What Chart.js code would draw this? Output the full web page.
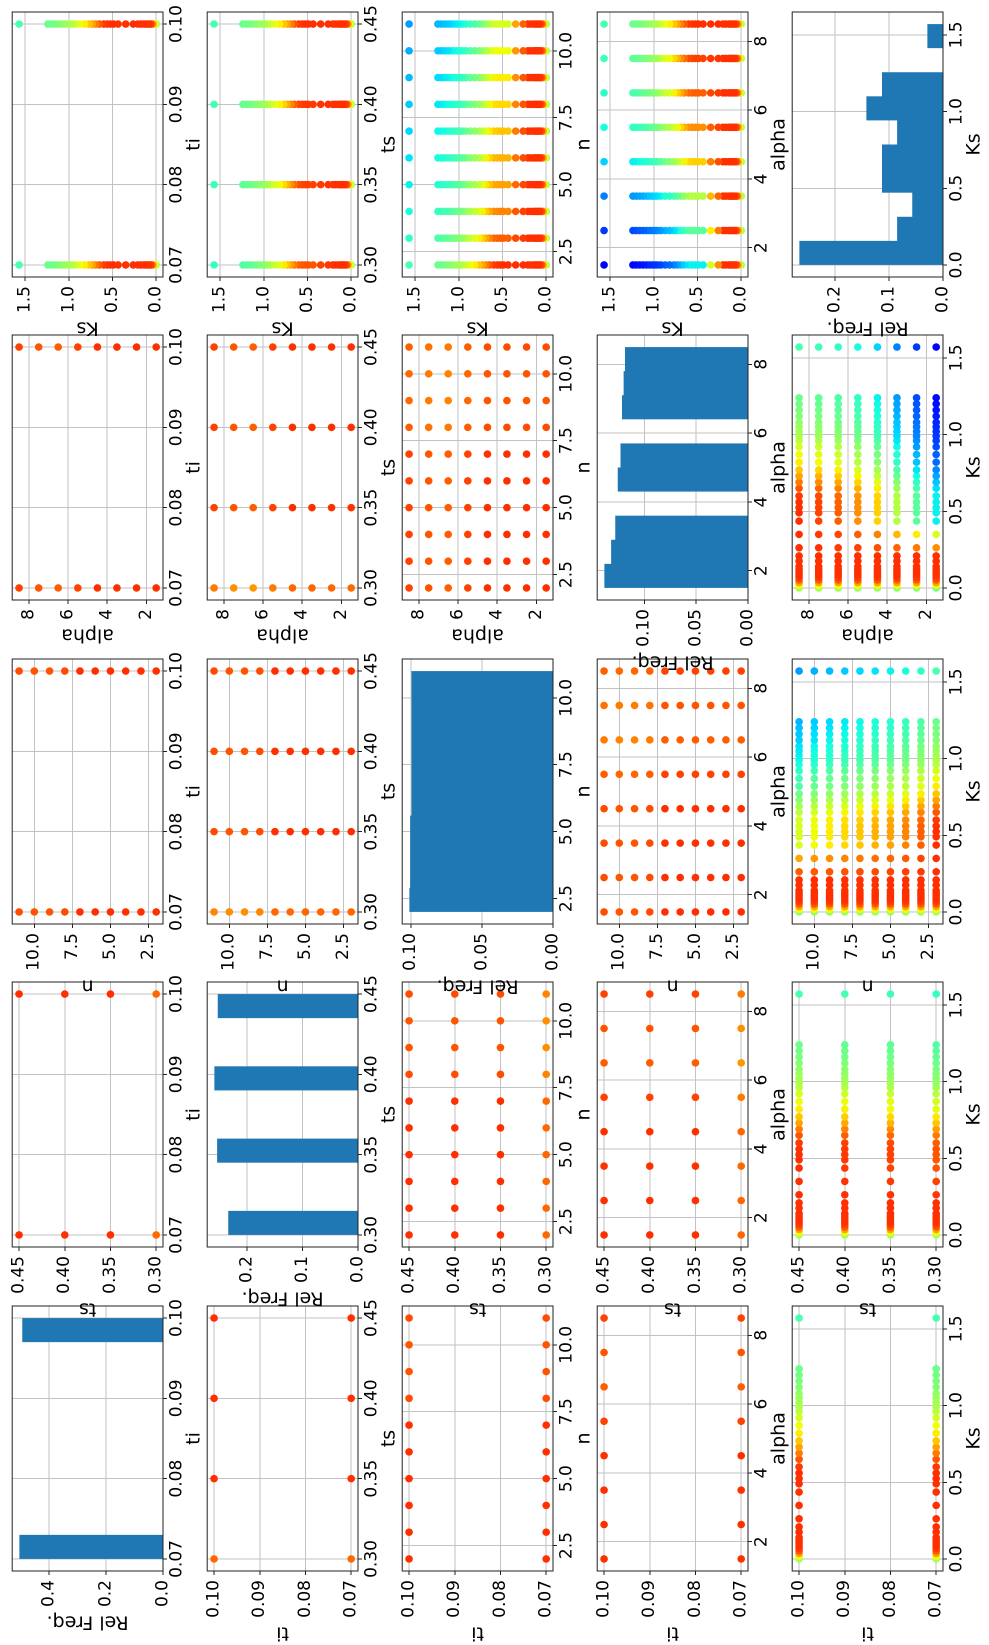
<!DOCTYPE html>
<html lang="en">
<head>
<meta charset="UTF-8">
<title>Parameter pair plot</title>
<style>
  html, body { margin: 0; padding: 0; background: #fff; }
  body { width: 989px; height: 1645px; overflow: hidden; position: relative; }
  /* the figure is laid out landscape, then turned a quarter turn left */
  #fig { position: absolute; left: 0; top: 0; width: 1645px; height: 989px;
         transform-origin: 0 0; transform: translate(0, 1645px) rotate(-90deg); }
  #fig canvas { position: absolute; }
</style>
</head>
<body>
<div id="fig"></div>
<script src="https://cdn.jsdelivr.net/npm/chart.js@4.4.9/dist/chart.umd.min.js"></script>
<script>
// sampled parameter values
const tiVals = [0.07, 0.10];
const tsVals = [0.30, 0.35, 0.40, 0.45];
const nVals = [2, 3, 4, 5, 6, 7, 8, 9, 10, 11];
const alphaVals = [1.5, 2.5, 3.5, 4.5, 5.5, 6.5, 7.5, 8.5];
const ksVals = [0.000, 0.017, 0.035, 0.052, 0.070, 0.087, 0.105, 0.122, 0.140,
                0.175, 0.209, 0.262, 0.349, 0.436,
                0.490, 0.524, 0.560, 0.600, 0.650, 0.690, 0.730, 0.770,
                0.820, 0.870, 0.920, 0.960, 0.990, 1.020, 1.050, 1.080,
                1.120, 1.160, 1.200, 1.240, 1.5708];

// relative frequencies, 10 bins between min and max of each parameter
const tiFreq = [0.505, 0, 0, 0, 0, 0, 0, 0, 0, 0.495];
const tsFreq = [0.234, 0, 0, 0.254, 0, 0, 0.259, 0, 0, 0.253];
const nFreq = [0.101, 0.1005, 0.1005, 0.1005, 0.0995, 0.0995, 0.0995, 0.0995, 0.0995, 0.0995];
const alphaFreq = [0.1385, 0.132, 0.128, 0, 0.1256, 0.123, 0, 0.1215, 0.120, 0.1186];
const ksFreq = [0.266, 0.085, 0.057, 0.113, 0.113, 0.085, 0.142, 0.113, 0, 0.029];

// tick values
const tiTicks = [0.07, 0.08, 0.09, 0.10];
const tsTicks = [0.30, 0.35, 0.40, 0.45];
const nTicks = [2.5, 5.0, 7.5, 10.0];
const alphaTicks = [2, 4, 6, 8];
const ksTicks = [0.0, 0.5, 1.0, 1.5];
const tiFreqTicks = [0.0, 0.2, 0.4];
const tsFreqTicks = [0.0, 0.1, 0.2];
const nFreqTicks = [0.00, 0.05, 0.10];
const alphaFreqTicks = [0.00, 0.05, 0.10];
const ksFreqTicks = [0.0, 0.1, 0.2];

// colour value (jet) of the points, read per Ks value, and how much the other parameter pulls it down
const ksHue = [0.55, 0.64, 0.74, 0.82, 0.85, 0.86, 0.86, 0.86, 0.86,
               0.86, 0.86, 0.86, 0.86, 0.86,
               0.86, 0.86, 0.86, 0.85, 0.82, 0.78, 0.74, 0.70,
               0.66, 0.64, 0.61, 0.58, 0.56, 0.55, 0.54, 0.53,
               0.51, 0.50, 0.49, 0.48, 0.44];
const ksSens = [0.1, 0, 0, 0, 0, 0, 0, 0, 0,
                0, 0, 0.2, 0.5, 1.0,
                1.0, 1.0, 1.0, 0.98, 0.95, 0.92, 0.9, 0.88,
                0.86, 0.84, 0.82, 0.78, 0.76, 0.75, 0.74, 0.73,
                0.72, 0.71, 0.7, 0.7, 0.65];
const tiShift = [0, 0];
const tsShift = [0.04, 0.02, 0.01, 0];
const nShift = [0, 0.05, 0.09, 0.12, 0.14, 0.16, 0.18, 0.2, 0.22, 0.25];
const alphaShift = [0.5, 0.4, 0.29, 0.17, 0.1, 0.05, 0.02, 0];
// slight orange tint of the points away from Ks
const tiTone = [0, 0];
const tsTone = [0.06, 0, 0, 0];
const nTone = [0, 0, 0, 0, 0, 0, 0.03, 0.04, 0.04, 0.03];
const alphaTone = [0, 0, 0, 0, 0.02, 0.05, 0.04, 0.02];

const params = [
  { key: 'ti', vals: tiVals, ticks: tiTicks, dec: 2, freq: tiFreq, fticks: tiFreqTicks, fdec: 1, shift: tiShift, tone: tiTone },
  { key: 'ts', vals: tsVals, ticks: tsTicks, dec: 2, freq: tsFreq, fticks: tsFreqTicks, fdec: 1, shift: tsShift, tone: tsTone },
  { key: 'n', vals: nVals, ticks: nTicks, dec: 1, freq: nFreq, fticks: nFreqTicks, fdec: 2, shift: nShift, tone: nTone },
  { key: 'alpha', vals: alphaVals, ticks: alphaTicks, dec: 0, freq: alphaFreq, fticks: alphaFreqTicks, fdec: 2, shift: alphaShift, tone: alphaTone },
  { key: 'Ks', vals: ksVals, ticks: ksTicks, dec: 1, freq: ksFreq, fticks: ksFreqTicks, fdec: 1, shift: null, tone: null }
];

// matplotlib "jet"
function seg(pts, v) {
  for (let k = 1; k < pts.length; k++) {
    if (v <= pts[k][0]) {
      const [x0, y0] = pts[k - 1], [x1, y1] = pts[k];
      return y0 + (y1 - y0) * (v - x0) / (x1 - x0);
    }
  }
  return pts[pts.length - 1][1];
}
function jet(v) {
  v = Math.min(1, Math.max(0, v));
  const r = seg([[0, 0], [0.35, 0], [0.66, 1], [0.89, 1], [1, 0.5]], v);
  const g = seg([[0, 0], [0.125, 0], [0.375, 1], [0.64, 1], [0.91, 0], [1, 0]], v);
  const b = seg([[0, 0.5], [0.11, 1], [0.34, 1], [0.65, 0], [1, 0]], v);
  return 'rgb(' + Math.round(r * 255) + ',' + Math.round(g * 255) + ',' + Math.round(b * 255) + ')';
}
function pointColor(px, ix, py, iy) {
  if (px.key === 'Ks' || py.key === 'Ks') {
    const k = px.key === 'Ks' ? ix : iy;
    const other = px.key === 'Ks' ? py : px;
    const io = px.key === 'Ks' ? iy : ix;
    return jet(ksHue[k] - other.shift[io] * ksSens[k]);
  }
  return jet(0.86 - px.tone[ix] - py.tone[iy]);
}

function range(vals) {
  const lo = Math.min(...vals), hi = Math.max(...vals);
  const m = 0.05 * (hi - lo);
  return [lo - m, hi + m];
}

Chart.defaults.font.family = '"DejaVu Sans", sans-serif';
Chart.defaults.color = '#000';

const TICK_FONT = 17, LABEL_FONT = 19;
const PLOT_W = 265, PLOT_H = 152;
const PAD_T = 14, PAD_R = 25, X_AXIS_H = 43;
const plotLeft = j => 74 + 323.5 * j;
const plotTop = i => 11 + 195 * i;

const measure = document.createElement('canvas').getContext('2d');
measure.font = TICK_FONT + 'px "DejaVu Sans"';

const frame = {
  id: 'frame',
  afterDraw(chart) {
    const a = chart.chartArea, ctx = chart.ctx;
    ctx.save();
    ctx.strokeStyle = '#222';
    ctx.lineWidth = 1;
    ctx.strokeRect(a.left, a.top, a.right - a.left, a.bottom - a.top);
    ctx.restore();
  }
};

function axis(title, min, max, ticks, dec, fit, horizontal) {
  return {
    type: 'linear', min: min, max: max, z: 1,
    afterBuildTicks: s => { s.ticks = ticks.map(v => ({ value: v })); },
    afterFit: fit,
    ticks: { callback: v => Number(v).toFixed(dec), autoSkip: false, maxRotation: 0, minRotation: 0,
             padding: horizontal ? 0 : 5, font: { size: TICK_FONT }, color: '#000' },
    grid: { color: '#c2c2c2', lineWidth: 1, drawTicks: true, tickLength: 4, tickColor: '#222' },
    border: { display: false },
    title: { display: true, text: title, font: { size: LABEL_FONT }, padding: 0, color: '#000' }
  };
}

const fig = document.getElementById('fig');

for (let i = 0; i < 5; i++) {        // row: parameter on the horizontal axis
  for (let j = 0; j < 5; j++) {      // column: parameter on the vertical axis
    const px = params[i], py = params[j];
    const hist = i === j;
    const yTicks = hist ? py.fticks : py.ticks;
    const yDec = hist ? py.fdec : py.dec;
    const wTick = Math.max(...yTicks.map(v => measure.measureText(v.toFixed(yDec)).width));
    const L = Math.ceil(4 + 5 + wTick + 3 + LABEL_FONT * 1.2);

    const cw = L + PLOT_W + PAD_R, ch = PAD_T + PLOT_H + X_AXIS_H;
    const cv = document.createElement('canvas');
    cv.width = cw; cv.height = ch;
    cv.style.width = cw + 'px'; cv.style.height = ch + 'px';
    cv.style.left = (plotLeft(j) - L) + 'px';
    cv.style.top = (plotTop(i) - PAD_T) + 'px';
    fig.appendChild(cv);

    const [xmin, xmax] = range(px.vals);
    let datasets, yMin, yMax, type;
    if (hist) {
      // bin edges; each bin's height runs from its left edge to the next edge
      const lo = Math.min(...px.vals), hi = Math.max(...px.vals);
      const step = (hi - lo) / px.freq.length;
      const pts = px.freq.map((f, k) => ({ x: lo + k * step, y: f }));
      pts.push({ x: hi, y: 0 });
      datasets = [{ data: pts, stepped: 'before', fill: 'origin', backgroundColor: '#1f77b4',
                    borderColor: 'rgba(0,0,0,0)', borderWidth: 0, pointRadius: 0 }];
      yMin = 0; yMax = 1.05 * Math.max(...px.freq);
      type = 'line';
    } else {
      const pts = [], cols = [];
      px.vals.forEach((xv, ix) => {
        py.vals.forEach((yv, iy) => {
          pts.push({ x: xv, y: yv });
          cols.push(pointColor(px, ix, py, iy));
        });
      });
      datasets = [{ data: pts, backgroundColor: cols, pointRadius: 3.8, pointBorderWidth: 0, pointHoverRadius: 3.8 }];
      [yMin, yMax] = range(py.vals);
      type = 'scatter';
    }

    new Chart(cv, {
      type: type,
      data: { datasets: datasets },
      options: {
        responsive: false, animation: false, devicePixelRatio: 2,
        layout: { padding: { left: 0, top: PAD_T, right: PAD_R, bottom: 0 } },
        plugins: { legend: { display: false }, tooltip: { enabled: false } },
        scales: {
          x: axis(px.key, xmin, xmax, px.ticks, px.dec, s => { s.height = X_AXIS_H; }, true),
          y: axis(hist ? 'Rel Freq.' : py.key, yMin, yMax, yTicks, yDec, s => { s.width = L; }, false)
        }
      },
      plugins: [frame]
    });
  }
}
</script>
</body>
</html>
